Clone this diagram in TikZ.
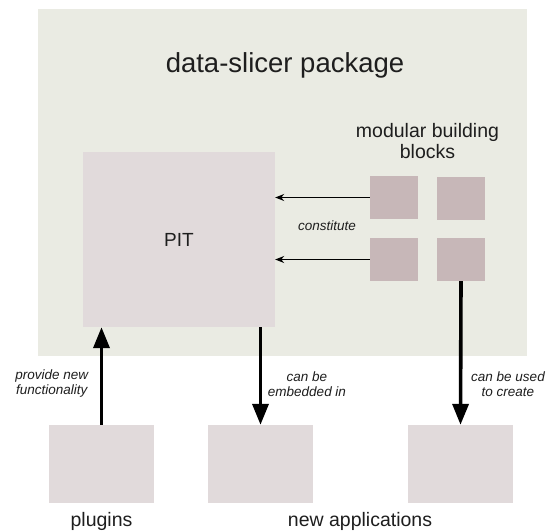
\documentclass[tikz,border=0pt]{standalone}
\usepackage{fontspec}
\setmainfont{Liberation Sans}
\usetikzlibrary{arrows.meta}
\definecolor{bgc}{RGB}{234,235,227}
\definecolor{boxc}{RGB}{225,218,219}
\definecolor{blkc}{RGB}{199,183,184}
\definecolor{txtc}{RGB}{30,30,30}
\tikzset{
  box/.style={draw=none,fill=boxc,inner sep=0pt,minimum width=105pt,minimum height=78pt},
  blk/.style={draw=none,fill=blkc,inner sep=0pt,minimum width=48pt,minimum height=43pt},
  lbl/.style={text=txtc,inner sep=0pt,font=\fontsize{19.5}{20.5}\selectfont,align=center},
  ital/.style={text=txtc,inner sep=0pt,font=\fontsize{13.5}{15}\selectfont\itshape,align=center},
  thinarr/.style={line width=1pt,-{Stealth[length=9pt,width=7pt,inset=3pt]}},
  thickarr/.style={line width=3.6pt,-{Triangle[length=21pt,width=16pt]}}
}
\begin{document}
\begin{tikzpicture}[x=1pt,y=-1pt]
\useasboundingbox[fill=white] (0,0) rectangle (549,532);
\node[fill=bgc,inner sep=0pt,minimum width=489pt,minimum height=347pt] (bg) at (282.5,182.5) {};
\node[lbl,font=\fontsize{27.5}{28}\selectfont,anchor=base] (title) at (285,73) {data-slicer package};
\node[lbl] (mod) at (427.5,141) {modular building\\blocks};
\node[box,minimum width=192pt,minimum height=175pt,text=txtc,font=\fontsize{19}{20}\selectfont] (pit) at (179,239.5) {PIT};
\node[blk] (sq1) at (394,197.5) {};
\node[blk] (sq2) at (461,198.5) {};
\node[blk] (sq3) at (394,259.5) {};
\node[blk] (sq4) at (461,259.5) {};
\node[box] (plug) at (101.5,464) {};
\node[box] (app1) at (260.5,464) {};
\node[box] (app2) at (460.5,464) {};
\node[lbl,anchor=base] (plugl) at (101.5,526) {plugins};
\node[lbl,anchor=base] (appl) at (360,526) {new applications};
\draw[thinarr] (sq1.west) -- (sq1.west -| pit.east);
\draw[thinarr] (sq3.west) -- (sq3.west -| pit.east);
\node[ital] (const) at (327,226) {constitute};
\draw[thickarr] (plug.north) -- (plug.north |- pit.south);
\draw[thickarr] (app1.north |- pit.south) -- (app1.north);
\draw[thickarr] (sq4.south) -- (app2.north);
\node[ital] (prov) at (51.7,384) {provide new\\functionality};
\node[ital] (emb) at (307,384) {can be\\embedded in};
\node[ital] (used) at (508,384) {can be used\\to create};
\end{tikzpicture}
\end{document}
